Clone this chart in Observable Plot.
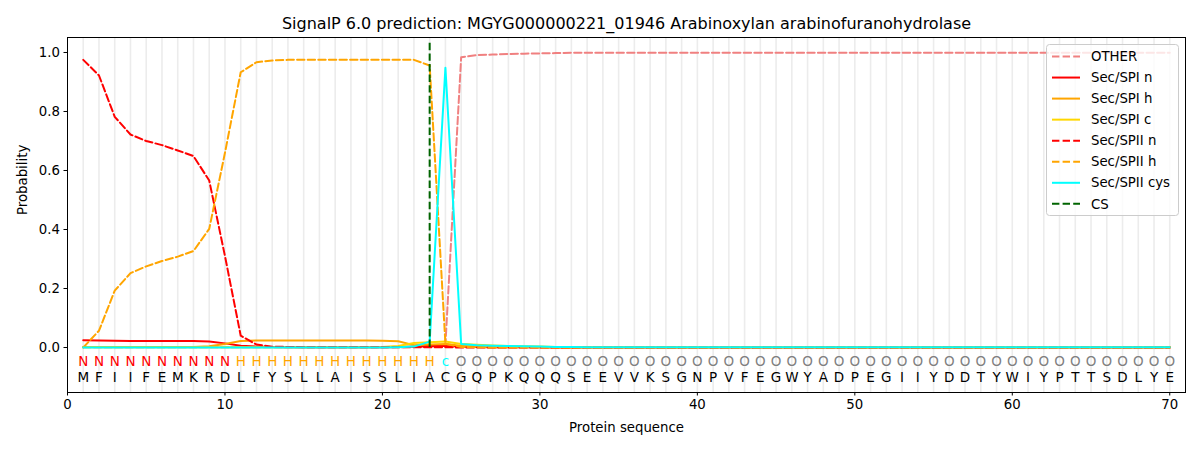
<!DOCTYPE html>
<html>
<head>
<meta charset="utf-8">
<script src="https://cdn.jsdelivr.net/npm/d3@7"></script>
<script src="https://cdn.jsdelivr.net/npm/@observablehq/plot@0.6"></script>
<style>
  body { margin: 0; background: white; }
  #chart { position: relative; width: 1200px; height: 450px; }
</style>
</head>
<body>
<div id="chart"></div>
<script>
const titleText = "SignalP 6.0 prediction: MGYG000000221_01946 Arabinoxylan arabinofuranohydrolase";
const sequence = "MFIIFEMKRDLFYSLLAISSLIACGQPKQQQSEEVVKSGNPVFEGWYADPEGIIYDDTYWIYPTTSDLYE".split("");
const annotation = "NNNNNNNNNNHHHHHHHHHHHHHcOOOOOOOOOOOOOOOOOOOOOOOOOOOOOOOOOOOOOOOOOOOOOO".split("");
const positions = d3.range(1, 71);
const xTicks = [0, 10, 20, 30, 40, 50, 60, 70];
const yTicks = [0, 0.2, 0.4, 0.6, 0.8, 1.0];
const csPos = [23];
const csSpan = [0, 1.04];

const other = [0.001,0.001,0.001,0.001,0.001,0.001,0.001,0.001,0.001,0.001,
  0.001,0.001,0.001,0.001,0.001,0.001,0.001,0.001,0.001,0.001,
  0.001,0.002,0.003,0.01,0.984,0.991,0.993,0.995,0.996,0.997,
  0.998,0.999,0.999,0.999,0.999,0.999,0.999,0.999,0.999,0.999,
  0.999,0.999,0.999,0.999,0.999,0.999,0.999,0.999,0.999,0.999,
  0.999,0.999,0.999,0.999,0.999,0.999,0.999,0.999,0.999,0.999,
  0.999,0.999,0.999,0.999,0.999,0.999,0.999,0.999,0.999,0.999];
const spiN = [0.025,0.024,0.023,0.022,0.022,0.022,0.022,0.022,0.02,0.014,
  0.006,0.003,0.002,0.001,0.001,0.001,0.001,0.001,0.001,0.001,
  0.002,0.003,0.006,0.005,0.003,0.002,0.001,0.001,0.001,0.001,
  0,0,0,0,0,0,0,0,0,0, 0,0,0,0,0,0,0,0,0,0,
  0,0,0,0,0,0,0,0,0,0, 0,0,0,0,0,0,0,0,0,0];
const spiH = [0.002,0.002,0.002,0.002,0.002,0.002,0.002,0.002,0.004,0.012,
  0.022,0.024,0.024,0.024,0.024,0.024,0.024,0.024,0.024,0.023,
  0.021,0.008,0.01,0.012,0.006,0.004,0.003,0.002,0.002,0.001,
  0.001,0.001,0.001,0.001,0.001,0.001,0.001,0.001,0.001,0.001,
  0.001,0.001,0.001,0.001,0.001,0.001,0.001,0.001,0.001,0.001,
  0.001,0.001,0.001,0.001,0.001,0.001,0.001,0.001,0.001,0.001,
  0.001,0.001,0.001,0.001,0.001,0.001,0.001,0.001,0.001,0.001];
const spiC = [0.001,0.001,0.001,0.001,0.001,0.001,0.001,0.001,0.001,0.001,
  0.001,0.001,0.001,0.001,0.001,0.001,0.001,0.001,0.001,0.002,
  0.005,0.015,0.018,0.02,0.012,0.009,0.007,0.005,0.004,0.003,
  0.002,0.001,0.001,0.001,0.001,0.001,0.001,0.001,0.001,0.001,
  0.001,0.001,0.001,0.001,0.001,0.001,0.001,0.001,0.001,0.001,
  0.001,0.001,0.001,0.001,0.001,0.001,0.001,0.001,0.001,0.001,
  0.001,0.001,0.001,0.001,0.001,0.001,0.001,0.001,0.001,0.001];
const spiiN = [0.975,0.922,0.782,0.722,0.7,0.686,0.668,0.649,0.566,0.31,
  0.04,0.01,0.003,0.002,0.001,0.001,0.001,0.001,0.001,0.001,
  0.001,0.001,0.001,0.001,0,0,0,0,0,0,
  0,0,0,0,0,0,0,0,0,0, 0,0,0,0,0,0,0,0,0,0,
  0,0,0,0,0,0,0,0,0,0, 0,0,0,0,0,0,0,0,0,0];
const spiiH = [0.0,0.057,0.193,0.252,0.275,0.293,0.308,0.327,0.402,0.66,
  0.933,0.967,0.973,0.975,0.975,0.975,0.975,0.975,0.975,0.975,
  0.975,0.975,0.956,0.013,0.002,0.001,0,0,0,0,
  0,0,0,0,0,0,0,0,0,0, 0,0,0,0,0,0,0,0,0,0,
  0,0,0,0,0,0,0,0,0,0, 0,0,0,0,0,0,0,0,0,0];
const spiiCys = [0,0,0,0,0,0,0,0,0,0,
  0,0,0,0,0,0,0,0,0,0,
  0.001,0.003,0.02,0.948,0.012,0.008,0.006,0.005,0.004,0.003,
  0.002,0.002,0.001,0.001,0.001,0.001,0.001,0.001,0.001,0.001,
  0.001,0.001,0.001,0.001,0.001,0.001,0.001,0.001,0.001,0.001,
  0.001,0.001,0.001,0.001,0.001,0.001,0.001,0.001,0.001,0.001,
  0.001,0.001,0.001,0.001,0.001,0.001,0.001,0.001,0.001,0.001];

const seriesNames = ["OTHER","Sec/SPI n","Sec/SPI h","Sec/SPI c","Sec/SPII n","Sec/SPII h","Sec/SPII cys","CS"];
const seriesValues = [other, spiN, spiH, spiC, spiiN, spiiH, spiiCys, null];
const seriesColors = ["#f08080","red","orange","gold","red","orange","cyan","darkgreen"];
const seriesDashed = [true,false,false,false,true,true,false,true];

const annColor = {N: "red", H: "orange", c: "cyan", O: "gray"};
const DASH = "7.4,3.2";
const annRowY = -0.047;
const seqRowY = -0.101;

const lineMarks = [];
seriesValues.forEach((vals, i) => {
  if (!vals) return;
  lineMarks.push(Plot.line(positions.map((p, j) => ({x: p, y: vals[j]})), {
    x: "x", y: "y", stroke: seriesColors[i], strokeWidth: 2,
    strokeDasharray: seriesDashed[i] ? DASH : null
  }));
});

const plot = Plot.plot({
  width: 1200,
  height: 450,
  marginLeft: 67,
  marginRight: 15,
  marginTop: 37,
  marginBottom: 58,
  style: {fontFamily: "DejaVu Sans", fontSize: "13.3px", background: "white", color: "black"},
  x: {domain: [0, 71]},
  y: {domain: [-0.1525, 1.0508]},
  marks: [
    Plot.ruleX(positions, {stroke: "#ececec", strokeWidth: 1.6}),
    ...lineMarks,
    Plot.ruleX(csPos, {x: d => d, y1: csSpan[0], y2: csSpan[1], stroke: "darkgreen", strokeWidth: 2, strokeDasharray: DASH}),
    Plot.text(annotation, {x: (d, i) => positions[i], y: annRowY, text: d => d, fill: d => annColor[d], fontSize: 13.5, lineAnchor: "middle"}),
    Plot.text(sequence, {x: (d, i) => positions[i], y: seqRowY, text: d => d, fill: "black", fontSize: 13.5, lineAnchor: "middle"}),
    Plot.frame({stroke: "black", strokeWidth: 1}),
    Plot.axisX({ticks: xTicks, tickSize: 3.5, tickPadding: 4, tickFormat: d3.format("d"), label: null}),
    Plot.axisY({ticks: yTicks, tickSize: 3.5, tickPadding: 4, tickFormat: d3.format(".1f"), label: null}),
    Plot.text([titleText], {frameAnchor: "top", dy: -14, fontSize: 16, lineAnchor: "middle", fill: "black"}),
    Plot.text(["Protein sequence"], {frameAnchor: "bottom", dy: 35, fontSize: 13.3, lineAnchor: "middle", fill: "black"}),
    Plot.text(["Probability"], {frameAnchor: "left", dx: -45, rotate: -90, fontSize: 13.3, lineAnchor: "middle", fill: "black"})
  ]
});

document.getElementById("chart").appendChild(plot);

// legend inside the axes (upper right)
const svg = d3.select(plot);
const lg = svg.append("g").attr("font-family", "DejaVu Sans").attr("font-size", "13.3px").attr("text-anchor", "start");
lg.append("rect").attr("x", 1046.5).attr("y", 44.5).attr("width", 132).attr("height", 171)
  .attr("rx", 3).attr("fill", "white").attr("fill-opacity", 0.8).attr("stroke", "#cccccc");
seriesNames.forEach((name, i) => {
  const cy = 56.5 + i * 21.05;
  lg.append("line").attr("x1", 1052).attr("x2", 1080).attr("y1", cy).attr("y2", cy)
    .attr("stroke", seriesColors[i]).attr("stroke-width", 2)
    .attr("stroke-dasharray", seriesDashed[i] ? DASH : null);
  lg.append("text").attr("x", 1091).attr("y", cy).attr("dy", "0.35em").attr("fill", "black")
    .attr("text-anchor", "start").text(name);
});
</script>
</body>
</html>
